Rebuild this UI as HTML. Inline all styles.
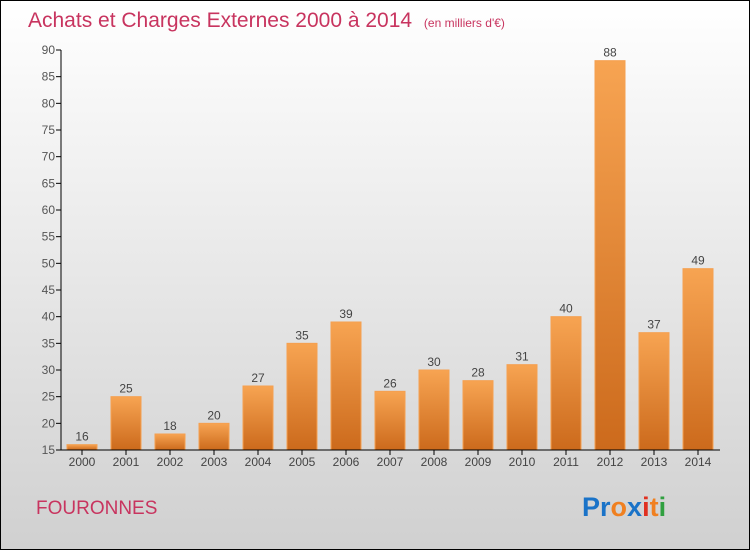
<!DOCTYPE html>
<html><head><meta charset="utf-8"><style>
body{margin:0}
svg{display:block;font-family:"Liberation Sans",sans-serif}
</style></head><body>
<svg id="c" width="750" height="550">
<defs>
<linearGradient id="bg" x1="0" y1="0" x2="0" y2="1"><stop offset="0" stop-color="#ffffff"/><stop offset="1" stop-color="#d0d0d0"/></linearGradient>
<linearGradient id="bar" x1="0" y1="0" x2="0" y2="1"><stop offset="0" stop-color="#f7a452"/><stop offset="1" stop-color="#cc6a1c"/></linearGradient>
</defs>
<rect x="0.5" y="0.5" width="749" height="549" fill="url(#bg)" stroke="#000"/>
<text x="28" y="27" font-size="21" fill="#c8345f">Achats et Charges Externes 2000 à 2014 <tspan font-size="12" dx="6">(en milliers d'€)</tspan></text>
<text x="36" y="514" font-size="19" fill="#c8345f">FOURONNES</text>
<text x="582" y="516" font-size="27" font-weight="bold"><tspan fill="#1a73c8">Pr</tspan><tspan fill="#f08020">o</tspan><tspan fill="#1a73c8">x</tspan><tspan fill="#e03020">i</tspan><tspan fill="#f08020">t</tspan><tspan fill="#30a040">i</tspan></text>
<g id="plot"></g>
</svg>
<script>
const categories=["2000","2001","2002","2003","2004","2005","2006","2007","2008","2009","2010","2011","2012","2013","2014"];
const values=[16,25,18,20,27,35,39,26,30,28,31,40,88,37,49];
const yTicks=[15,20,25,30,35,40,45,50,55,60,65,70,75,80,85,90];
const ns="http://www.w3.org/2000/svg";
const g=document.getElementById('plot');
const y=v=>450-(v-15)*(400/75);
const x=i=>82+i*44;
function mk(t,a){const e=document.createElementNS(ns,t);for(const k in a)e.setAttribute(k,a[k]);g.appendChild(e);return e;}
yTicks.forEach(t=>{
  const l=mk('line',{x1:56,x2:61,y1:y(t),y2:y(t),stroke:'#000'});
  
  
  const tx=mk('text',{x:55,y:y(t)+4,'text-anchor':'end','font-size':12,fill:'#555'});
  tx.textContent=t;
  
  
});
categories.forEach((c,i)=>{
  const v=values[i];
  const r=mk('rect',{x:x(i)-15,y:y(v),width:30,height:450-y(v),fill:'url(#bar)',stroke:'#f5a050','stroke-width':1});
  
  
  const vl=mk('text',{x:x(i),y:y(v)-4,'text-anchor':'middle','font-size':12,fill:'#444'});
  vl.textContent=v;
  
  
  const tk=mk('line',{x1:x(i),x2:x(i),y1:450,y2:455,stroke:'#000'});
  
  
  const xl=mk('text',{x:x(i),y:466,'text-anchor':'middle','font-size':12,fill:'#444'});
  xl.textContent=c;
  
  
});
const ya=mk('line',{x1:61,x2:61,y1:50,y2:450,stroke:'#000'});


const xa=mk('line',{x1:61,x2:720,y1:450,y2:450,stroke:'#000'});


</script>
</body></html>
